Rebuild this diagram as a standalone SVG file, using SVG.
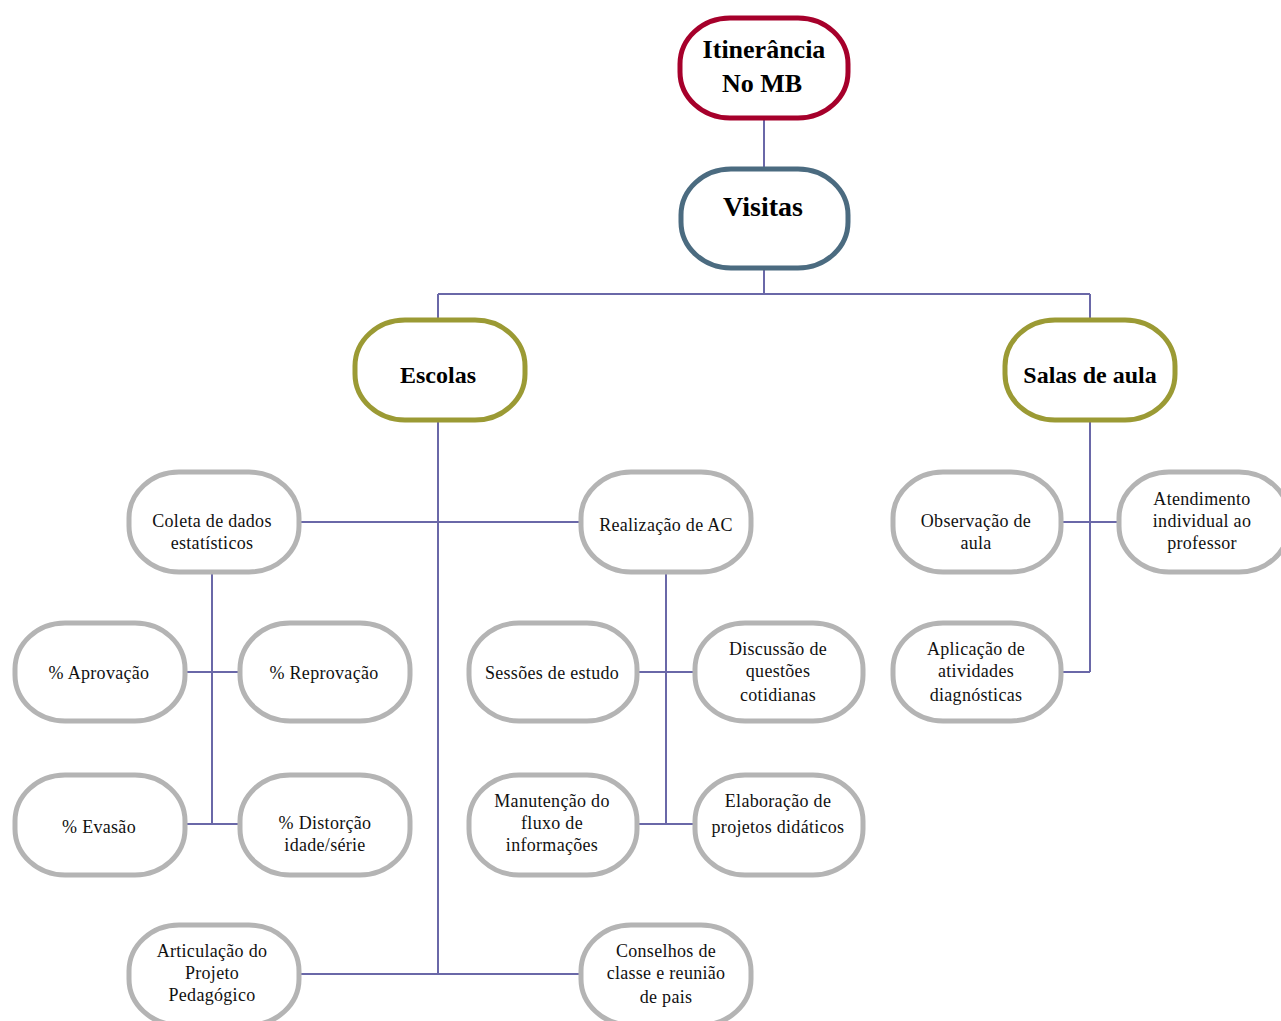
<svg xmlns="http://www.w3.org/2000/svg" width="1281" height="1021" viewBox="0 0 1281 1021">
  <style>
    .node { fill: #ffffff; stroke-width: 5; }
    .top { stroke: #A6002B; }
    .mid { stroke: #4B6B80; }
    .sec { stroke: #9B9A34; }
    .leaf { stroke: #B4B4B4; }
    .head { font-family: "Liberation Serif", "Times New Roman", serif; font-weight: bold; fill: #000; text-anchor: middle; }
    .lbl { font-family: "Liberation Serif", "Times New Roman", serif; font-size: 18px; letter-spacing: 0.3px; fill: #111; text-anchor: middle; }
    .conn { stroke: #6A68A8; stroke-width: 2; fill: none; }
  </style>
  <defs>
    <!-- text frame of the "Salas de aula" box ends before its last letter -->
    <clipPath id="salasText">
      <rect x="1010" y="340" width="148" height="60"/>
    </clipPath>
  </defs>

  <!-- connectors -->
  <g id="connectors" class="conn">
    <path d="M764 118 V168"/>
    <path d="M764 268 V294 M438 294 H1090 M438 294 V318 M1090 294 V318"/>
    <path d="M438 420 V974 M299 522 H581 M299 974 H581"/>
    <path d="M212 572 V824 M185 672 H240 M185 824 H240"/>
    <path d="M666 572 V824 M637 672 H695 M637 824 H695"/>
    <path d="M1090 420 V672 M1061 522 H1119 M1061 672 H1090"/>
  </g>

  <g id="itinerancia">
    <rect class="node top" x="680" y="18" width="168" height="100" rx="50" ry="46"/>
    <text class="head" x="764" y="58" font-size="26">Itinerância</text>
    <text class="head" x="762" y="92" font-size="26">No MB</text>
  </g>

  <g id="visitas">
    <rect class="node mid" x="681" y="169" width="167" height="99" rx="50" ry="46"/>
    <text class="head" x="763" y="216" font-size="28">Visitas</text>
  </g>

  <g id="escolas">
    <rect class="node sec" x="355" y="320" width="170" height="100" rx="50" ry="46"/>
    <text class="head" x="438" y="383" font-size="24">Escolas</text>
  </g>

  <g id="salas">
    <rect class="node sec" x="1005" y="320" width="170" height="100" rx="50" ry="46"/>
    <text class="head" x="1090" y="383" font-size="24" clip-path="url(#salasText)">Salas de aula</text>
  </g>

  <g id="coleta">
    <rect class="node leaf" x="129" y="472" width="170" height="100" rx="50" ry="46"/>
    <text class="lbl" x="212" y="527">Coleta de dados</text>
    <text class="lbl" x="212" y="549">estatísticos</text>
  </g>

  <g id="realizacao">
    <rect class="node leaf" x="581" y="472" width="170" height="100" rx="50" ry="46"/>
    <text class="lbl" x="666" y="531">Realização de AC</text>
  </g>

  <g id="aprovacao">
    <rect class="node leaf" x="15" y="623" width="170" height="98" rx="50" ry="46"/>
    <text class="lbl" x="99" y="679">% Aprovação</text>
  </g>

  <g id="reprovacao">
    <rect class="node leaf" x="240" y="623" width="170" height="98" rx="50" ry="46"/>
    <text class="lbl" x="324" y="679">% Reprovação</text>
  </g>

  <g id="evasao">
    <rect class="node leaf" x="15" y="775" width="170" height="100" rx="50" ry="46"/>
    <text class="lbl" x="99" y="833">% Evasão</text>
  </g>

  <g id="distorcao">
    <rect class="node leaf" x="240" y="775" width="170" height="100" rx="50" ry="46"/>
    <text class="lbl" x="325" y="829">% Distorção</text>
    <text class="lbl" x="325" y="851">idade/série</text>
  </g>

  <g id="sessoes">
    <rect class="node leaf" x="469" y="623" width="168" height="98" rx="50" ry="46"/>
    <text class="lbl" x="552" y="679">Sessões de estudo</text>
  </g>

  <g id="discussao">
    <rect class="node leaf" x="695" y="623" width="168" height="98" rx="50" ry="46"/>
    <text class="lbl" x="778" y="655">Discussão de</text>
    <text class="lbl" x="778" y="677">questões</text>
    <text class="lbl" x="778" y="701">cotidianas</text>
  </g>

  <g id="manutencao">
    <rect class="node leaf" x="469" y="775" width="168" height="100" rx="50" ry="46"/>
    <text class="lbl" x="552" y="807">Manutenção do</text>
    <text class="lbl" x="552" y="829">fluxo de</text>
    <text class="lbl" x="552" y="851">informações</text>
  </g>

  <g id="elaboracao">
    <rect class="node leaf" x="695" y="775" width="168" height="100" rx="50" ry="46"/>
    <text class="lbl" x="778" y="807">Elaboração de</text>
    <text class="lbl" x="778" y="833">projetos didáticos</text>
  </g>

  <g id="articulacao">
    <rect class="node leaf" x="129" y="925" width="170" height="100" rx="50" ry="46"/>
    <text class="lbl" x="212" y="957">Articulação do</text>
    <text class="lbl" x="212" y="979">Projeto</text>
    <text class="lbl" x="212" y="1001">Pedagógico</text>
  </g>

  <g id="conselhos">
    <rect class="node leaf" x="581" y="925" width="170" height="100" rx="50" ry="46"/>
    <text class="lbl" x="666" y="957">Conselhos de</text>
    <text class="lbl" x="666" y="979">classe e reunião</text>
    <text class="lbl" x="666" y="1003">de pais</text>
  </g>

  <g id="observacao">
    <rect class="node leaf" x="893" y="472" width="168" height="100" rx="50" ry="46"/>
    <text class="lbl" x="976" y="527">Observação de</text>
    <text class="lbl" x="976" y="549">aula</text>
  </g>

  <g id="atendimento">
    <rect class="node leaf" x="1119" y="472" width="170" height="100" rx="50" ry="46"/>
    <text class="lbl" x="1202" y="505">Atendimento</text>
    <text class="lbl" x="1202" y="527">individual ao</text>
    <text class="lbl" x="1202" y="549">professor</text>
  </g>

  <g id="aplicacao">
    <rect class="node leaf" x="893" y="623" width="168" height="98" rx="50" ry="46"/>
    <text class="lbl" x="976" y="655">Aplicação de</text>
    <text class="lbl" x="976" y="677">atividades</text>
    <text class="lbl" x="976" y="701">diagnósticas</text>
  </g>
</svg>
